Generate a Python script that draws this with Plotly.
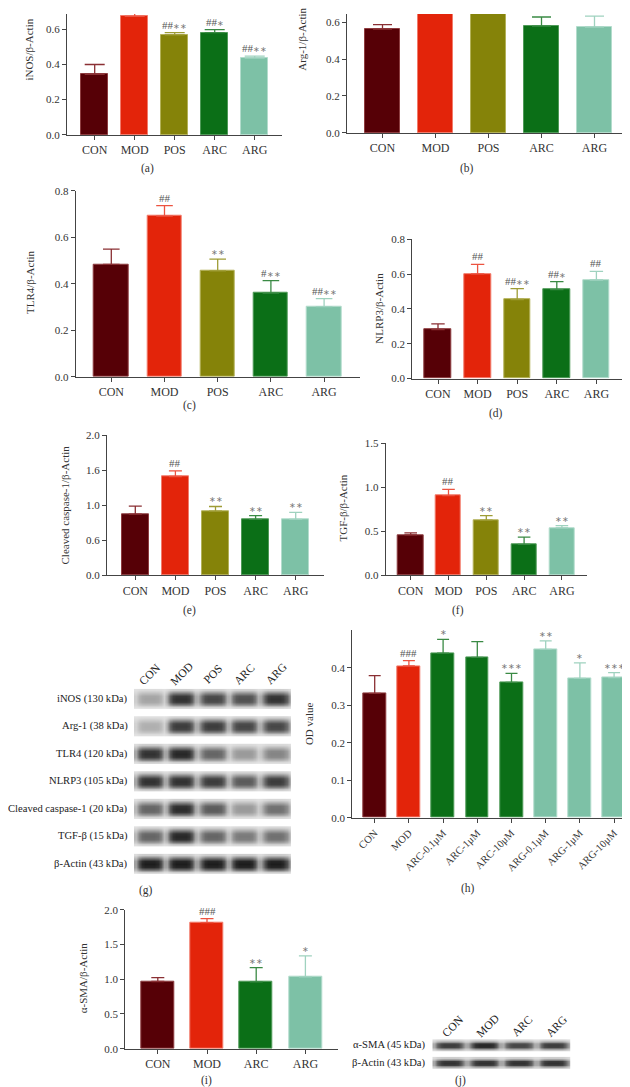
import plotly.graph_objects as go

W, H = 630, 1087
FONT = "Liberation Serif"

# ---------------- data ----------------
groups5 = ["CON", "MOD", "POS", "ARC", "ARG"]
groups4 = ["CON", "MOD", "ARC", "ARG"]
groups_h = ["CON", "MOD", "ARC-0.1μM", "ARC-1μM", "ARC-10μM", "ARG-0.1μM", "ARG-1μM", "ARG-10μM"]

inos_mean = [0.343, 0.672, 0.567, 0.580, 0.435]
inos_sem = [0.056, 0.030, 0.013, 0.017, 0.011]
inos_sig = ["", "##", "##∗∗", "##∗", "##∗∗"]

arg1_mean = [0.561, 0.700, 0.700, 0.578, 0.572]
arg1_sem = [0.025, 0.030, 0.030, 0.049, 0.060]
arg1_sig = ["", "", "", "", ""]

tlr4_mean = [0.483, 0.691, 0.455, 0.359, 0.301]
tlr4_sem = [0.066, 0.045, 0.051, 0.054, 0.035]
tlr4_sig = ["", "##", "∗∗", "#∗∗", "##∗∗"]

nlrp3_mean = [0.282, 0.601, 0.454, 0.511, 0.566]
nlrp3_sem = [0.032, 0.054, 0.062, 0.045, 0.049]
nlrp3_sig = ["", "##", "##∗∗", "##∗", "##"]

casp_mean = [0.872, 1.410, 0.914, 0.797, 0.797]
casp_sem = [0.113, 0.080, 0.067, 0.052, 0.099]
casp_sig = ["", "##", "∗∗", "∗∗", "∗∗"]
casp_ticks = [0.0, 0.5, 1.0, 1.5, 2.0]
casp_ticktext = ["0.0", "0.6", "1.0", "1.6", "2.0"]

tgf_mean = [0.457, 0.904, 0.626, 0.349, 0.536]
tgf_sem = [0.023, 0.071, 0.050, 0.082, 0.027]
tgf_sig = ["", "##", "∗∗", "∗∗", "∗∗"]

od_mean = [0.332, 0.405, 0.439, 0.428, 0.361, 0.449, 0.372, 0.374]
od_sem = [0.047, 0.014, 0.037, 0.042, 0.024, 0.023, 0.041, 0.013]
od_sig = ["", "###", "∗", "", "∗∗∗", "∗∗", "∗", "∗∗∗"]

sma_mean = [0.967, 1.815, 0.962, 1.033]
sma_sem = [0.057, 0.057, 0.204, 0.304]
sma_sig = ["", "###", "∗∗", "∗"]

# western blot band darkness per lane (0 = none, 1 = saturated)
blot_g_rows = ["iNOS (130 kDa)", "Arg-1 (38 kDa)", "TLR4 (120 kDa)", "NLRP3 (105 kDa)",
               "Cleaved caspase-1 (20 kDa)", "TGF-β (15 kDa)", "β-Actin (43 kDa)"]
blot_g_bands = [
    [0.30, 0.85, 0.75, 0.70, 0.85],
    [0.25, 0.80, 0.80, 0.75, 0.75],
    [0.85, 0.90, 0.60, 0.35, 0.45],
    [0.85, 0.85, 0.80, 0.65, 0.80],
    [0.60, 0.88, 0.65, 0.35, 0.55],
    [0.60, 0.90, 0.60, 0.50, 0.55],
    [0.95, 0.95, 0.95, 0.95, 0.95],
]
blot_j_rows = ["α-SMA (45 kDa)", "β-Actin (43 kDa)"]
blot_j_bands = [
    [0.80, 0.90, 0.75, 0.80],
    [0.85, 0.85, 0.85, 0.85],
]

# ---------------- styles ----------------
COL = {"CON": "#560006", "MOD": "#E3240A", "POS": "#858309", "ARC": "#0B6F17", "ARG": "#7DC1A6"}
EDGE = {"CON": "#8e3d40", "MOD": "#f27b6b", "POS": "#b3b158", "ARC": "#4f9a58", "ARG": "#b3dccc"}
ERR = {"CON": "#8a2f33", "MOD": "#ec5340", "POS": "#9e9c35", "ARC": "#3a8a44", "ARG": "#9fd2bf"}
AXC = "#444444"

fig = go.Figure()
layout = {}
annotations = []


def col_key(name):
    return name.split("-")[0]


def bar_panel(n, cats, means, sems, sigs, ax_px, first_px, step_px, base_px, unit_px, top_px,
              tickvals, ticktext, cap, cat_font=12, tickangle=0, right_px=None, bar_frac=0.67):
    nb = len(cats)
    left = -(first_px - ax_px) / step_px
    last_px = first_px + (nb - 1) * step_px
    if right_px is None:
        right_px = last_px + (first_px - ax_px)
    right = (nb - 1) + (right_px - last_px) / step_px
    ymax = (base_px - top_px) / unit_px
    keys = [col_key(c) for c in cats]
    xs = list(range(nb))
    fig.add_trace(go.Bar(
        x=xs, y=means, width=bar_frac,
        marker=dict(color=[COL[k] for k in keys], line=dict(color=[EDGE[k] for k in keys], width=1)),
        xaxis=f"x{n}", yaxis=f"y{n}", showlegend=False, hoverinfo="skip"))
    for i in range(nb):
        fig.add_trace(go.Scatter(
            x=[xs[i]], y=[means[i]], mode="markers", marker=dict(size=1, opacity=0),
            error_y=dict(type="data", array=[sems[i]], arrayminus=[0], symmetric=False,
                         color=ERR[keys[i]], thickness=1.3, width=cap),
            xaxis=f"x{n}", yaxis=f"y{n}", showlegend=False, hoverinfo="skip"))
        if sigs[i]:
            txt = sigs[i]
            if "∗" in txt:
                h = txt.replace("∗", "")
                s = txt[len(h):]
                txt = (f"<span style='color:#555555'>{h}</span>" if h else "") + \
                      f"<span style='font-size:8px;color:#7a7a7a'>{s}</span>"
            else:
                txt = f"<span style='color:#555555'>{txt}</span>"
            annotations.append(dict(text=txt, x=xs[i], y=means[i] + sems[i], xref=f"x{n}", yref=f"y{n}",
                                    yanchor="bottom", yshift=0, showarrow=False,
                                    font=dict(family=FONT, size=11, color="#555555")))
    layout[f"xaxis{n}"] = dict(
        domain=[ax_px / W, right_px / W], range=[left, right], anchor=f"y{n}",
        tickvals=xs, ticktext=cats, tickangle=tickangle, showline=True, linecolor=AXC, linewidth=1.2,
        ticks="outside", ticklen=4, tickwidth=1.2, tickcolor=AXC, showgrid=False, zeroline=False,
        tickfont=dict(family=FONT, size=cat_font, color="#333333"))
    layout[f"yaxis{n}"] = dict(
        domain=[1 - base_px / H, 1 - top_px / H], range=[0, ymax], anchor=f"x{n}",
        tickvals=tickvals, ticktext=ticktext, showline=True, linecolor=AXC, linewidth=1.2,
        ticks="outside", ticklen=4, tickwidth=1.2, tickcolor=AXC, showgrid=False, zeroline=False,
        tickfont=dict(family=FONT, size=11, color="#333333"))


def ytitle(text, x_px, y_px):
    annotations.append(dict(text=text, x=x_px / W, y=1 - y_px / H, xref="paper", yref="paper",
                            textangle=-90, showarrow=False, xanchor="center", yanchor="middle",
                            font=dict(family=FONT, size=11, color="#333333")))


def caption(text, x_px, y_px):
    annotations.append(dict(text=text, x=x_px / W, y=1 - y_px / H, xref="paper", yref="paper",
                            showarrow=False, xanchor="center", yanchor="middle",
                            font=dict(family=FONT, size=11.5, color="#333333")))


t02 = [0.0, 0.2, 0.4, 0.6, 0.8]
t02txt = [f"{v:.1f}" for v in t02]

# (a)
bar_panel(1, groups5, inos_mean, inos_sem, inos_sig, 59, 86.7, 40, 122.3, 178.5, 0,
          t02, t02txt, cap=10, bar_frac=0.68)
ytitle("iNOS/β-Actin", 21, 36)
caption("(a)", 139, 156)
# (b)
bar_panel(2, groups5, arg1_mean, arg1_sem, arg1_sig, 339, 374.5, 53, 120.3, 187, 0,
          t02, t02txt, cap=9.5)
ytitle("Arg-1/β-Actin", 294, 26)
caption("(b)", 459, 156)
# (c)
bar_panel(3, groups5, tlr4_mean, tlr4_sem, tlr4_sig, 67.7, 103.3, 53.2, 366.7, 235, 178.7,
          t02, t02txt, cap=8.3, bar_frac=0.65)
ytitle("TLR4/β-Actin", 22, 271)
caption("(c)", 182, 396)
# (d)
bar_panel(4, groups5, nlrp3_mean, nlrp3_sem, nlrp3_sig, 404.3, 430, 39.6, 368.7, 176.25, 227.7,
          t02, t02txt, cap=6.7)
ytitle("NLRP3/β-Actin", 371, 298)
caption("(d)", 488, 404)
# (e)
bar_panel(5, groups5, casp_mean, casp_sem, casp_sig, 99, 127.3, 40.1, 567.3, 70.65, 426,
          casp_ticks, casp_ticktext, cap=6.5)
ytitle("Cleaved caspase-1/β-Actin", 57, 497)
caption("(e)", 182, 603)
# (f)
t05 = [0.0, 0.5, 1.0, 1.5]
bar_panel(6, groups5, tgf_mean, tgf_sem, tgf_sig, 377.7, 402.7, 37.8, 567.3, 88.8, 434.1,
          t05, [f"{v:.1f}" for v in t05], cap=6.3)
ytitle("TGF-β/β-Actin", 335, 500)
caption("(f)", 450, 603)
# (h)
t01 = [0.0, 0.1, 0.2, 0.3, 0.4, 0.5]
bar_panel(7, groups_h, od_mean, od_sem, od_sig, 344.3, 366.7, 34.2, 812.7, 379, 623.3,
          t01, [f"{v:.1f}" for v in t01], cap=6, cat_font=10.5, tickangle=-45, right_px=619)
ytitle("OD value", 301, 718)
caption("(h)", 460, 884)
# (i)
t0520 = [0.0, 0.5, 1.0, 1.5, 2.0]
bar_panel(8, groups4, sma_mean, sma_sem, sma_sig, 117.3, 149.8, 49.2, 1046.3, 70.3, 905.7,
          t0520, [f"{v:.1f}" for v in t0520], cap=6.5)
ytitle("α-SMA/β-Actin", 75, 975)
caption("(i)", 198, 1078)

# ---------------- western blots ----------------
HPROF = [0.35, 0.75, 0.95, 1, 1, 1, 1, 0.95, 0.75, 0.35]
VPROF = [0.12, 0.55, 0.95, 1, 0.95, 0.55, 0.12]
GRAY = [[0, "#e4e4e4"], [0.5, "#7a7a7a"], [1, "#121212"]]


def blot_panel(n, lanes, rows, bands, x0, x1, ytop, ybot, row_frac, label_x, header_y, header_dx=0):
    nr, nl = len(rows), len(lanes)
    span = nr - 1 + row_frac
    ns, nv = len(HPROF), len(VPROF)
    layout[f"xaxis{n}"] = dict(domain=[x0 / W, x1 / W], range=[0, nl], visible=False, anchor=f"y{n}")
    layout[f"yaxis{n}"] = dict(domain=[1 - ybot / H, 1 - ytop / H], range=[span, 0], visible=False,
                               anchor=f"x{n}")
    xs = [l + (k + 0.5) / ns for l in range(nl) for k in range(ns)]
    for r in range(nr):
        ys = [r + (j + 0.5) * row_frac / nv for j in range(nv)]
        z = [[bands[r][l] * VPROF[j] * HPROF[k] for l in range(nl) for k in range(ns)] for j in range(nv)]
        fig.add_trace(go.Heatmap(x=xs, y=ys, z=z, zmin=0, zmax=1, colorscale=GRAY, showscale=False,
                                 zsmooth="best", xaxis=f"x{n}", yaxis=f"y{n}", hoverinfo="skip"))
        annotations.append(dict(text=rows[r], x=label_x / W, xref="paper", xanchor="right",
                                y=r + row_frac / 2, yref=f"y{n}", yanchor="middle", showarrow=False,
                                font=dict(family=FONT, size=10.6, color="#222222")))
    for l in range(nl):
        annotations.append(dict(text=lanes[l], x=l + 0.5, xref=f"x{n}", xshift=header_dx,
                                y=1 - header_y / H, yref="paper", textangle=-45, showarrow=False,
                                xanchor="center", yanchor="middle",
                                font=dict(family=FONT, size=11.5, color="#222222")))


blot_panel(9, groups5, blot_g_rows, blot_g_bands, 126, 283.3, 682.3, 869.3, 0.72, 121.7, 667)
caption("(g)", 138, 886)
blot_panel(10, groups4, blot_j_rows, blot_j_bands, 424.3, 562.7, 1036.7, 1066.7, 0.68, 420, 1023,
           header_dx=3)
caption("(j)", 452, 1078)

fig.update_layout(width=W, height=H, margin=dict(l=0, r=0, t=0, b=0),
                  paper_bgcolor="white", plot_bgcolor="white", showlegend=False,
                  annotations=annotations, bargap=0, **layout)
fig.write_html("out.html")
